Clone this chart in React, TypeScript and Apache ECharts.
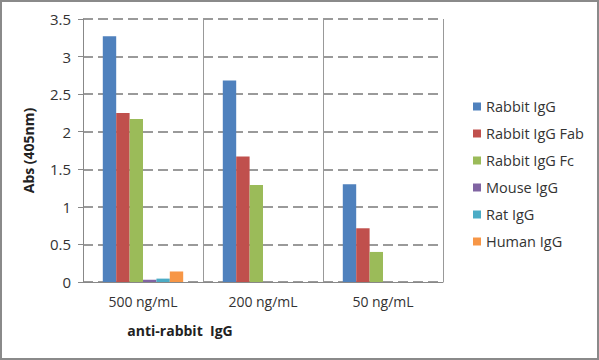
import React, { useEffect, useRef } from "react";
import * as echarts from "echarts";

const categories = ["500 ng/mL", "200 ng/mL", "50 ng/mL"];
const seriesNames = ["Rabbit IgG", "Rabbit IgG Fab", "Rabbit IgG Fc", "Mouse IgG", "Rat IgG", "Human IgG"];
const rabbitIgG = [3.27, 2.68, 1.3];
const rabbitIgGFab = [2.25, 1.67, 0.715];
const rabbitIgGFc = [2.17, 1.29, 0.4];
const mouseIgG = [0.03, 0, 0];
const ratIgG = [0.045, 0, 0];
const humanIgG = [0.14, 0, 0];
const colors = ["#4F81BD", "#C0504D", "#9BBB59", "#8064A2", "#4BACC6", "#F79646"];

export default function App() {
  const ref = useRef<HTMLDivElement>(null);
  useEffect(() => {
    document.body.style.margin = "0";
    const chart = echarts.init(ref.current!, null, { renderer: "svg" });
    const values = [rabbitIgG, rabbitIgGFab, rabbitIgGFc, mouseIgG, ratIgG, humanIgG];
    const font = "'Open Sans', 'Liberation Sans', sans-serif";
    chart.setOption({
      animation: false,
      backgroundColor: "#fff",
      color: colors,
      textStyle: { fontFamily: font },
      grid: { left: 83, right: 156, top: 19, bottom: 78 },
      legend: {
        orient: "vertical",
        left: 468,
        top: 94,
        itemWidth: 8,
        itemHeight: 8,
        itemGap: 12,
        icon: "rect",
        textStyle: { fontSize: 14.5, color: "#333", fontFamily: font },
        data: seriesNames,
      },
      xAxis: {
        type: "category",
        data: categories,
        axisLine: { lineStyle: { color: "#888", width: 1 } },
        axisTick: { show: false },
        axisLabel: { fontSize: 14, color: "#333", margin: 12 },
        splitLine: { show: true, lineStyle: { color: "#999", width: 1 } },
      },
      yAxis: {
        type: "value",
        min: 0,
        max: 3.5,
        interval: 0.5,
        name: "Abs (405nm)",
        nameLocation: "middle",
        nameGap: 48,
        nameTextStyle: { fontSize: 14, fontWeight: "bold", color: "#222" },
        axisLine: { show: true, lineStyle: { color: "#888" } },
        axisTick: { show: true, length: 5, lineStyle: { color: "#888" } },
        axisLabel: { fontSize: 15, color: "#333", margin: 12 },
        splitLine: { show: true, lineStyle: { color: "#7a7a7a", type: [10, 5], width: 1.5 } },
      },
      graphic: [
        {
          type: "rect",
          shape: { x: 1, y: 1, width: 597, height: 358 },
          style: { fill: "none", stroke: "#8a8a8a", lineWidth: 2 },
          silent: true,
        },
        {
          type: "text",
          x: 180,
          y: 330,
          style: {
            text: "anti-rabbit  IgG",
            font: "bold 14px 'Open Sans', 'Liberation Sans', sans-serif",
            fill: "#222",
            textAlign: "center",
            textVerticalAlign: "middle",
          },
        },
      ],
      series: seriesNames.map((n, i) => ({
        name: n,
        type: "bar",
        data: values[i],
        barGap: "0%",
        barCategoryGap: "33%",
      })),
    });
    return () => chart.dispose();
  }, []);
  return <div ref={ref} style={{ position: "absolute", left: 0, top: 0, width: 599, height: 360 }} />;
}
